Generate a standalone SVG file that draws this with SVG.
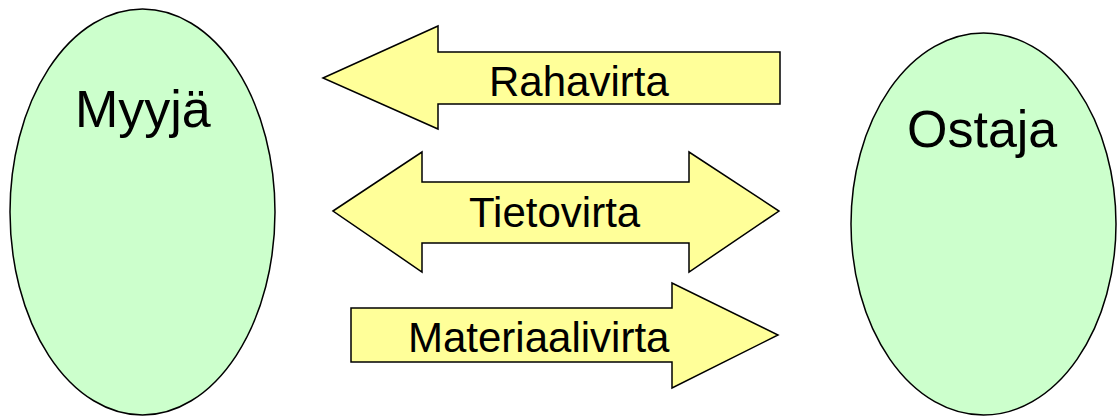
<svg xmlns="http://www.w3.org/2000/svg" width="1117" height="416" viewBox="0 0 1117 416">
  <style>
    .party { fill: #CCFFCC; stroke: #000; stroke-width: 1.5; }
    .flow { fill: #FFFF99; stroke: #000; stroke-width: 1.5; stroke-linejoin: miter; }
    .big { font-family: "Liberation Sans", Arial, sans-serif; font-size: 52px; fill: #000; }
    .lbl { font-family: "Liberation Sans", Arial, sans-serif; font-size: 42px; fill: #000; }
  </style>
  <rect width="1117" height="416" fill="#fff"/>

  <g id="myyja">
    <ellipse class="party" cx="142.5" cy="212" rx="132.5" ry="203"/>
    <text class="big" x="75" y="127">Myyjä</text>
  </g>

  <g id="ostaja">
    <ellipse class="party" cx="983.5" cy="224" rx="132.5" ry="191"/>
    <text class="big" x="907" y="147">Ostaja</text>
  </g>

  <g id="flows">
    <g id="rahavirta">
      <path class="flow" d="M323,78 L438,26 L438,52 L780,52 L780,104 L438,104 L438,129 Z"/>
      <text class="lbl" x="489" y="96">Rahavirta</text>
    </g>
    <g id="tietovirta">
      <path class="flow" d="M333,211 L422,152 L422,182 L689,182 L689,152 L779,211 L689,272 L689,243 L422,243 L422,272 Z"/>
      <text class="lbl" x="469" y="227">Tietovirta</text>
    </g>
    <g id="materiaalivirta">
      <path class="flow" d="M351,308 L672,308 L672,283 L778,335 L672,388 L672,362 L351,362 Z"/>
      <text class="lbl" x="408" y="352">Materiaalivirta</text>
    </g>
  </g>
</svg>
